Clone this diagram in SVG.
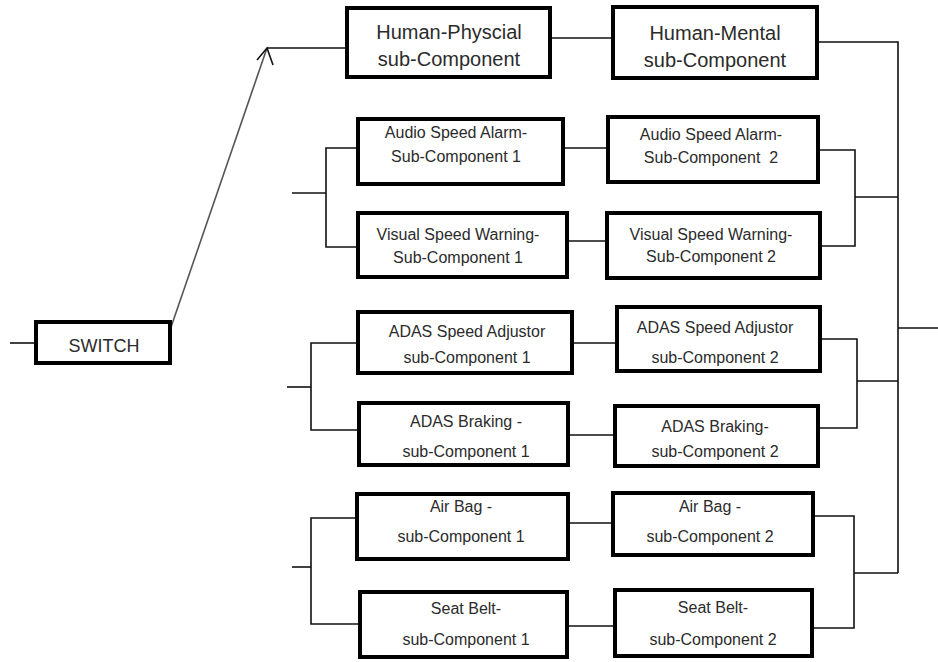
<svg xmlns="http://www.w3.org/2000/svg" width="938" height="662" viewBox="0 0 938 662">
<style>
.box{fill:#fff;stroke:#000;stroke-width:4}
.t{font-family:"Liberation Sans",Arial,sans-serif;font-size:16px;fill:#2b2b2b;text-anchor:middle}
.tl{font-size:20px}
.c{fill:none;stroke:#111;stroke-width:1.6}
.d{fill:none;stroke:#555;stroke-width:1.6}
</style>
<rect width="938" height="662" fill="#fff"/>
<g id="connectors">
<line class="c" x1="10" y1="343" x2="36" y2="343"/>
<line class="d" x1="169" y1="333" x2="267" y2="48"/>
<polyline class="c" points="257,60 267,48 273,65"/>
<line class="c" x1="267" y1="48" x2="347" y2="48"/>
<line class="c" x1="550" y1="38" x2="613" y2="38"/>
<polyline class="c" points="817,42 898,42 898,573"/>
<line class="c" x1="898" y1="328" x2="938" y2="328"/>
<line class="c" x1="292" y1="193" x2="326" y2="193"/>
<polyline class="c" points="358,148 326,148 326,247 358,247"/>
<line class="c" x1="563" y1="148" x2="608" y2="148"/>
<line class="c" x1="567" y1="241" x2="607" y2="241"/>
<polyline class="c" points="818,150 855,150 855,246 820,246"/>
<line class="c" x1="855" y1="197" x2="898" y2="197"/>
<line class="c" x1="287" y1="387" x2="311" y2="387"/>
<polyline class="c" points="358,343 311,343 311,430 359,430"/>
<line class="c" x1="572" y1="343" x2="617" y2="343"/>
<line class="c" x1="568" y1="435" x2="615" y2="435"/>
<polyline class="c" points="820,339 857,339 857,428 818,428"/>
<line class="c" x1="857" y1="381" x2="898" y2="381"/>
<line class="c" x1="292" y1="567" x2="311" y2="567"/>
<polyline class="c" points="357,518 311,518 311,624 360,624"/>
<line class="c" x1="568" y1="523" x2="613" y2="523"/>
<line class="c" x1="567" y1="626" x2="615" y2="626"/>
<polyline class="c" points="813,516 854,516 854,628 812,628"/>
<line class="c" x1="854" y1="573" x2="898" y2="573"/>
</g>
<g id="switch"><rect class="box" x="36" y="322" width="134" height="41"/><text class="t" x="104" y="352" style="font-size:18px">SWITCH</text></g>
<g id="human-physical"><rect class="box" x="347" y="8" width="203" height="69"/><text class="t tl" x="449" y="39">Human-Physcial</text><text class="t tl" x="449" y="66">sub-Component</text></g>
<g id="human-mental"><rect class="box" x="613" y="7" width="204" height="71"/><text class="t tl" x="715" y="40">Human-Mental</text><text class="t tl" x="715" y="67">sub-Component</text></g>
<g id="audio1"><rect class="box" x="358" y="119" width="205" height="65"/><text class="t" x="456" y="138">Audio Speed Alarm-</text><text class="t" x="456" y="162">Sub-Component 1</text></g>
<g id="audio2"><rect class="box" x="608" y="117" width="210" height="65"/><text class="t" x="711" y="140">Audio Speed Alarm-</text><text class="t" x="711" y="163" xml:space="preserve">Sub-Component  2</text></g>
<g id="visual1"><rect class="box" x="358" y="213" width="209" height="64"/><text class="t" x="458" y="240">Visual Speed Warning-</text><text class="t" x="458" y="263">Sub-Component 1</text></g>
<g id="visual2"><rect class="box" x="607" y="213" width="213" height="65"/><text class="t" x="711" y="240">Visual Speed Warning-</text><text class="t" x="711" y="262">Sub-Component 2</text></g>
<g id="adas-speed1"><rect class="box" x="358" y="312" width="214" height="61"/><text class="t" x="467" y="337">ADAS Speed Adjustor</text><text class="t" x="467" y="363">sub-Component 1</text></g>
<g id="adas-speed2"><rect class="box" x="617" y="307" width="203" height="64"/><text class="t" x="715" y="333">ADAS Speed Adjustor</text><text class="t" x="715" y="363">sub-Component 2</text></g>
<g id="adas-brake1"><rect class="box" x="359" y="403" width="209" height="62"/><text class="t" x="466" y="427">ADAS Braking -</text><text class="t" x="466" y="457">sub-Component 1</text></g>
<g id="adas-brake2"><rect class="box" x="615" y="406" width="203" height="60"/><text class="t" x="715" y="432">ADAS Braking-</text><text class="t" x="715" y="457">sub-Component 2</text></g>
<g id="airbag1"><rect class="box" x="357" y="494" width="211" height="65"/><text class="t" x="461" y="512">Air Bag -</text><text class="t" x="461" y="542">sub-Component 1</text></g>
<g id="airbag2"><rect class="box" x="613" y="493" width="200" height="62"/><text class="t" x="710" y="512">Air Bag -</text><text class="t" x="710" y="542">sub-Component 2</text></g>
<g id="seatbelt1"><rect class="box" x="360" y="592" width="207" height="65"/><text class="t" x="466" y="614">Seat Belt-</text><text class="t" x="466" y="645">sub-Component 1</text></g>
<g id="seatbelt2"><rect class="box" x="615" y="590" width="197" height="66"/><text class="t" x="713" y="613">Seat Belt-</text><text class="t" x="713" y="645">sub-Component 2</text></g>
</svg>
